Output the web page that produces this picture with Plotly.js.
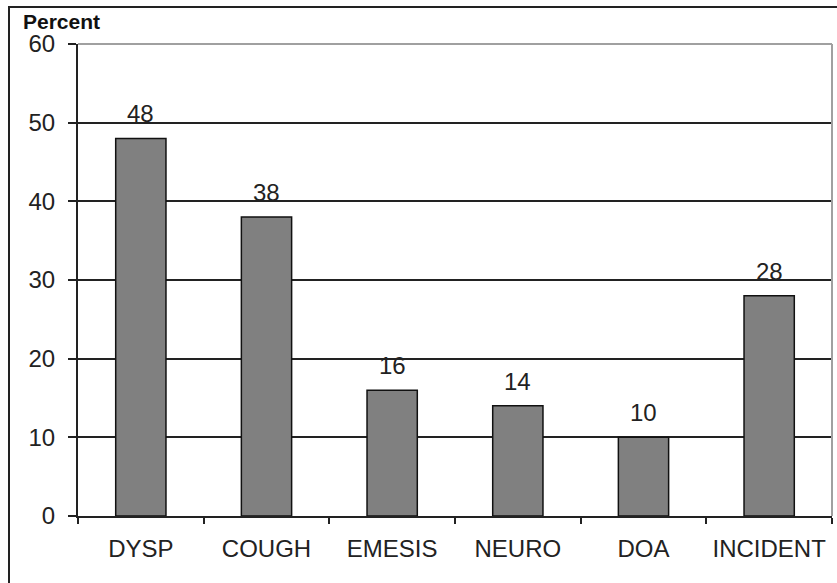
<!DOCTYPE html>
<html>
<head>
<meta charset="utf-8">
<script src="https://cdn.plot.ly/plotly-3.0.1.min.js"></script>
<style>html,body{margin:0;padding:0;background:#fff;}#chart{width:837px;height:583px;}</style>
</head>
<body>
<div id="chart"></div>
<script>
const categories = ["DYSP", "COUGH", "EMESIS", "NEURO", "DOA", "INCIDENT"];
const percentValues = [48, 38, 16, 14, 10, 28];
const yTickValues = [0, 10, 20, 30, 40, 50, 60];

const W = 837, H = 583;
const L = 78, R = 5, T = 44, B = 67;
const pw = W - L - R, ph = H - T - B;

const font = "Arial, 'Liberation Sans', sans-serif";

const trace = {
  type: "bar",
  x: categories,
  y: percentValues,
  marker: { color: "#808080", line: { color: "#111", width: 1.5 } },
  hoverinfo: "skip"
};

const annotations = categories.map((c, i) => ({
  x: c, y: percentValues[i], xref: "x", yref: "y",
  text: String(percentValues[i]), showarrow: false,
  yanchor: "bottom", yshift: 9,
  font: { family: font, size: 24, color: "#222" }
}));
annotations.push({
  xref: "paper", yref: "paper",
  x: (21 - L) / pw, y: 1 + (T - 22) / ph,
  xanchor: "left", yanchor: "middle",
  text: "<b>Percent</b>", showarrow: false,
  font: { family: font, size: 21, color: "#111" }
});

const layout = {
  width: W, height: H,
  margin: { l: L, r: R, t: T, b: B, pad: 0 },
  paper_bgcolor: "#fff", plot_bgcolor: "#fff",
  showlegend: false,
  bargap: 0.6,
  font: { family: font, color: "#222" },
  xaxis: {
    type: "category",
    tickson: "boundaries",
    ticks: "outside", ticklen: 6, tickwidth: 2, tickcolor: "#222",
    showline: true, linecolor: "#222", linewidth: 2,
    showgrid: false, zeroline: false,
    ticklabelstandoff: 10,
    tickfont: { family: font, size: 24, color: "#222" }
  },
  yaxis: {
    range: [0, 60],
    tickvals: yTickValues,
    ticks: "outside", ticklen: 8, tickwidth: 2, tickcolor: "#222",
    showline: true, linecolor: "#222", linewidth: 2,
    showgrid: true, gridcolor: "#222", gridwidth: 2,
    zeroline: false,
    ticklabelstandoff: 8,
    tickfont: { family: font, size: 24, color: "#222" }
  },
  annotations: annotations,
  shapes: [
    { type: "line", xref: "paper", yref: "paper", x0: 0, x1: 1, y0: 1, y1: 1,
      line: { color: "#a0a0a0", width: 2 }, layer: "above" },
    { type: "line", xref: "paper", yref: "paper", x0: 1, x1: 1, y0: 0, y1: 1,
      line: { color: "#a0a0a0", width: 2 }, layer: "above" },
    { type: "rect", xref: "paper", yref: "paper",
      x0: (9 - L) / pw, x1: 1.05, y0: -(600 - (H - B)) / ph, y1: 1 + (T - 7) / ph,
      line: { color: "#222", width: 2 }, fillcolor: "rgba(0,0,0,0)", layer: "above" }
  ]
};

Plotly.newPlot("chart", [trace], layout, { displayModeBar: false, staticPlot: true });
</script>
</body>
</html>
